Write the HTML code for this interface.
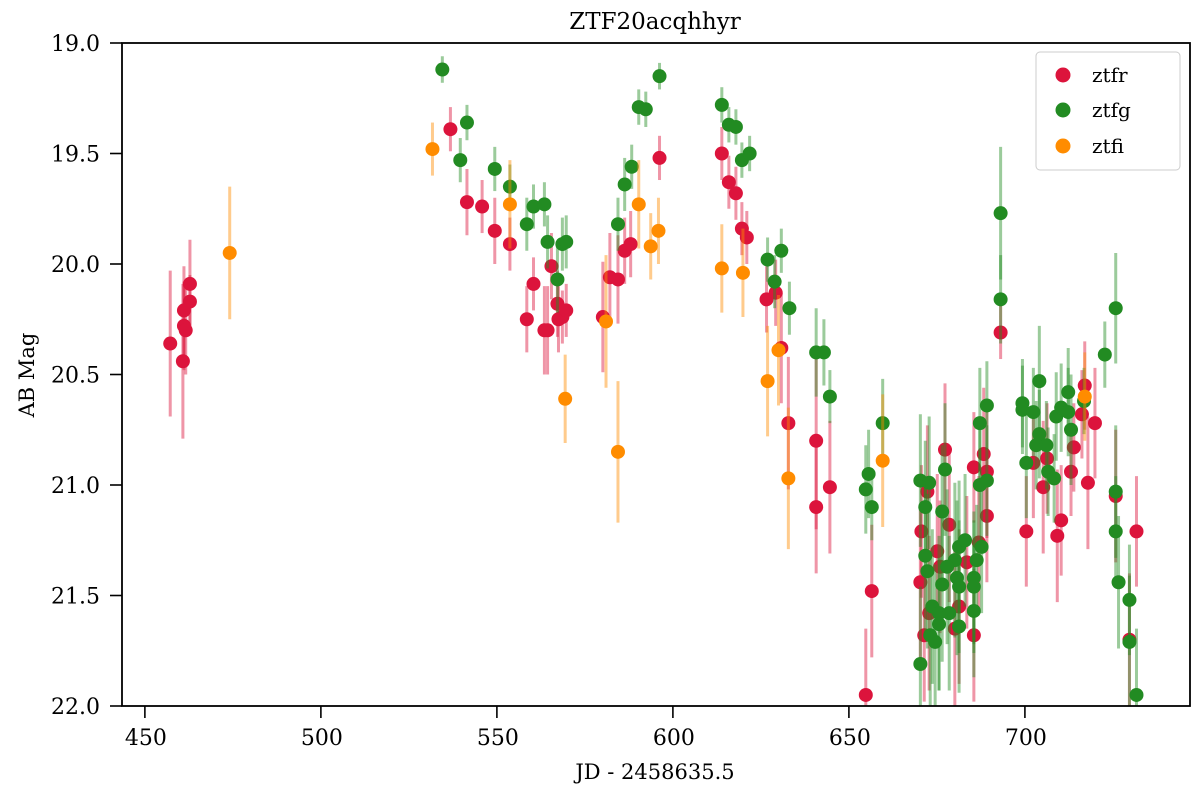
<!DOCTYPE html>
<html><head><meta charset="utf-8"><style>
body{margin:0;background:#fff;}
svg{display:block;font-family:"DejaVu Serif","Liberation Serif",serif;}
</style></head><body>
<svg id="chart" width="1200" height="788">
<text x="655" y="29" text-anchor="middle" font-size="23">ZTF20acqhhyr</text>
<g id="marks"></g>
<rect x="122" y="43" width="1068" height="663" fill="none" stroke="#000" stroke-width="1.8"/>
<g id="axes"></g>
<text x="655" y="779" text-anchor="middle" font-size="21">JD - 2458635.5</text>
<text transform="translate(34,375) rotate(-90)" text-anchor="middle" font-size="21">AB Mag</text>
<g>
<rect x="1036" y="52" width="144" height="118" rx="4" fill="#fff" fill-opacity="0.8" stroke="#ccc"/>
<g><circle cx="1063" cy="75" r="7.5" fill="#dc143c"/><text x="1092" y="82" font-size="20">ztfr</text></g>
<g><circle cx="1063" cy="110" r="7.5" fill="#228b22"/><text x="1092" y="117" font-size="20">ztfg</text></g>
<g><circle cx="1063" cy="146" r="7.5" fill="#ff8c00"/><text x="1092" y="153" font-size="20">ztfi</text></g>
</g>
</svg>
<script>
const xTicks=[450,500,550,600,650,700];
const yTicks=[19.0,19.5,20.0,20.5,21.0,21.5,22.0];
const rX=[457.2,460.8,461.1,461.1,461.6,462.8,462.8,536.8,541.5,545.8,549.4,553.7,558.5,560.4,563.5,564.4,565.5,567.2,567.5,568.6,569.7,580.1,582.1,584.4,586.3,588.0,596.2,613.9,615.9,617.9,619.6,621.0,626.6,629.2,630.8,632.8,640.7,640.7,644.6,654.8,656.5,
677.3,685.5,688.3,689.2,689.2,678.5,670.6,675.1,672.3,675.9,670.3,681.3,680.1,671.4,685.5,672.8,686.9,683.5,700.4,702.4,705.2,706.3,709.2,710.3,713.1,713.9,717.9,719.9,716.2,717.0,725.8,731.7,729.7,693.1];
const rY=[20.36,20.44,20.28,20.21,20.30,20.09,20.17,19.39,19.72,19.74,19.85,19.91,20.25,20.09,20.30,20.30,20.01,20.18,20.25,20.24,20.21,20.24,20.06,20.07,19.94,19.91,19.52,19.50,19.63,19.68,19.84,19.88,20.16,20.13,20.38,20.72,20.80,21.10,21.01,21.95,21.48,
20.84,20.92,20.86,20.94,21.14,21.18,21.21,21.30,21.03,21.37,21.44,21.55,21.65,21.68,21.68,21.58,21.26,21.35,21.21,20.90,21.01,20.88,21.23,21.16,20.94,20.83,20.99,20.72,20.68,20.55,21.05,21.21,21.70,20.31];
const rE=[0.33,0.35,0.2,0.2,0.2,0.2,0.12,0.1,0.15,0.12,0.15,0.12,0.15,0.12,0.2,0.2,0.15,0.15,0.15,0.12,0.12,0.25,0.2,0.2,0.15,0.15,0.1,0.12,0.12,0.12,0.12,0.12,0.15,0.15,0.25,0.3,0.4,0.3,0.3,0.3,0.3,
0.3,0.25,0.3,0.3,0.3,0.35,0.3,0.35,0.3,0.3,0.35,0.35,0.35,0.3,0.3,0.35,0.3,0.3,0.25,0.25,0.3,0.25,0.3,0.25,0.2,0.2,0.3,0.25,0.2,0.2,0.3,0.25,0.3,0.12];
const gX=[534.5,539.6,541.5,549.4,553.7,558.5,560.4,563.5,564.4,567.2,568.6,569.7,584.4,586.3,588.3,590.3,592.3,596.2,613.9,615.9,617.9,619.6,621.8,626.9,630.8,628.9,633.1,640.7,642.9,644.6,655.6,654.8,656.5,659.6,
670.3,672.8,671.7,676.5,677.3,687.2,689.2,687.2,689.2,671.7,672.3,676.5,681.3,683.0,680.1,677.9,680.7,681.3,685.5,685.5,686.3,687.7,685.5,673.7,675.6,678.5,675.6,673.1,674.5,681.3,670.3,
699.3,699.3,702.4,704.1,704.1,703.2,706.1,700.4,706.6,708.3,708.9,710.3,712.3,712.3,713.1,716.8,725.8,725.8,726.6,729.7,729.7,731.7,722.7,725.8,693.1,693.1];
const gY=[19.12,19.53,19.36,19.57,19.65,19.82,19.74,19.73,19.90,20.07,19.91,19.90,19.82,19.64,19.56,19.29,19.30,19.15,19.28,19.37,19.38,19.53,19.50,19.98,19.94,20.08,20.20,20.40,20.40,20.60,20.95,21.02,21.10,20.72,
20.98,20.99,21.10,21.12,20.93,20.72,20.64,21.00,20.98,21.32,21.39,21.45,21.28,21.25,21.34,21.37,21.42,21.46,21.42,21.46,21.34,21.28,21.57,21.55,21.58,21.58,21.63,21.68,21.71,21.64,21.81,
20.63,20.66,20.67,20.53,20.77,20.82,20.82,20.90,20.94,20.97,20.69,20.65,20.67,20.58,20.75,20.62,21.03,21.21,21.44,21.52,21.71,21.95,20.41,20.20,19.77,20.16];
const gE=[0.06,0.1,0.08,0.1,0.1,0.12,0.1,0.1,0.12,0.15,0.12,0.12,0.12,0.12,0.1,0.08,0.08,0.06,0.08,0.08,0.08,0.08,0.08,0.1,0.1,0.12,0.12,0.2,0.15,0.12,0.2,0.2,0.15,0.2,
0.3,0.3,0.3,0.3,0.3,0.25,0.2,0.3,0.25,0.35,0.35,0.35,0.3,0.3,0.35,0.35,0.35,0.3,0.3,0.3,0.25,0.3,0.3,0.35,0.35,0.35,0.3,0.35,0.35,0.3,0.35,
0.2,0.2,0.2,0.25,0.2,0.2,0.2,0.25,0.2,0.2,0.2,0.2,0.2,0.2,0.25,0.15,0.3,0.25,0.3,0.25,0.3,0.3,0.15,0.25,0.3,0.2];
const iX=[474.1,531.7,553.7,581.0,569.4,584.4,590.3,593.7,595.9,613.9,619.9,630.0,626.9,632.8,659.6,717.0];
const iY=[19.95,19.48,19.73,20.26,20.61,20.85,19.73,19.92,19.85,20.02,20.04,20.39,20.53,20.97,20.89,20.60];
const iE=[0.3,0.12,0.2,0.3,0.2,0.32,0.2,0.15,0.15,0.2,0.2,0.25,0.25,0.32,0.3,0.2];

const NS="http://www.w3.org/2000/svg";
const L=122,R=1190,T=43,B=706,XMIN=443.5,XMAX=746.9,YMIN=19,YMAX=22;
function sx(v){return L+(v-XMIN)/(XMAX-XMIN)*(R-L);}
function sy(v){return T+(v-YMIN)/(YMAX-YMIN)*(B-T);}
function mk(tag,attrs,parent){const e=document.createElementNS(NS,tag);for(const k in attrs)e.setAttribute(k,attrs[k]);parent.appendChild(e);return e;}
const marks=document.getElementById('marks');
const clip=mk('clipPath',{id:'pc'},marks);mk('rect',{x:L,y:T,width:R-L,height:B-T},clip);
const g0=mk('g',{'clip-path':'url(#pc)'},marks);
function series(xs,ys,es,col,name){
  const g=mk('g',{},g0);
  
  
  for(let i=0;i<xs.length;i++){
    const l=mk('line',{x1:sx(xs[i]),x2:sx(xs[i]),y1:sy(ys[i]-es[i]),y2:sy(ys[i]+es[i]),stroke:col,'stroke-opacity':0.45,'stroke-width':3},g);
    
    
  }
  for(let i=0;i<xs.length;i++){
    const c=mk('circle',{cx:sx(xs[i]),cy:sy(ys[i]),r:7,fill:col},g);
    
    
  }
}
series(rX,rY,rE,'#dc143c','ztfr');
series(gX,gY,gE,'#228b22','ztfg');
series(iX,iY,iE,'#ff8c00','ztfi');
const ax=document.getElementById('axes');
xTicks.forEach(v=>{
  const x=sx(v);
  const t=mk('line',{x1:x,x2:x,y1:B,y2:B+12,stroke:'#000','stroke-width':1.6},ax);
  
  
  const tx=mk('text',{x:x+1,y:B+39,'text-anchor':'middle','font-size':22},ax);
  tx.textContent=String(v);
  
  
});
yTicks.forEach(v=>{
  const y=sy(v);
  const t=mk('line',{x1:L-12,x2:L,y1:y,y2:y,stroke:'#000','stroke-width':1.6},ax);
  
  
  const tx=mk('text',{x:L-22,y:y+8,'text-anchor':'end','font-size':22},ax);
  tx.textContent=v.toFixed(1);
  
  
});
</script>
</body></html>
